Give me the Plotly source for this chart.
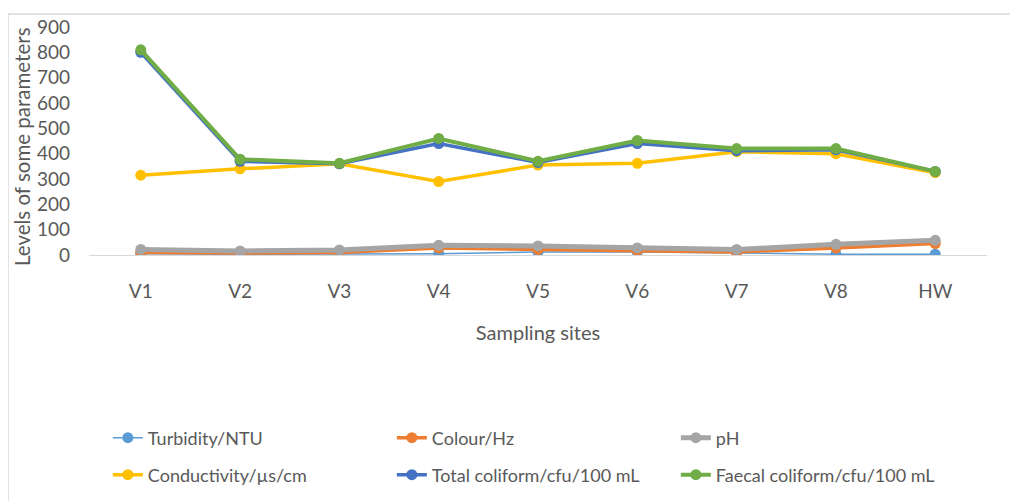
import plotly.graph_objects as go

SITES = ["V1", "V2", "V3", "V4", "V5", "V6", "V7", "V8", "HW"]

turbidity = [5, 3, 4, 5, 12, 12, 8, 3, 3]
colour = [10, 8, 10, 28, 22, 18, 12, 28, 45]
ph = [22, 16, 20, 38, 36, 28, 22, 42, 58]
conductivity = [315, 340, 360, 290, 355, 362, 408, 400, 325]
total_coliform = [800, 370, 360, 440, 365, 440, 412, 415, 330]
faecal_coliform = [810, 378, 362, 460, 370, 452, 420, 420, 330]

SERIES = [
    ("Turbidity/NTU", turbidity, "#5B9BD5", 1.5, "legend"),
    ("Colour/Hz", colour, "#ED7D31", 3.5, "legend"),
    ("pH", ph, "#A5A5A5", 5, "legend"),
    ("Conductivity/\u00b5s/cm", conductivity, "#FFC000", 3.5, "legend2"),
    ("Total coliform/cfu/100 mL", total_coliform, "#4472C4", 3.5, "legend2"),
    ("Faecal coliform/cfu/100 mL", faecal_coliform, "#70AD47", 4, "legend2"),
]

FONT = "Lato, Open Sans, sans-serif"
TXT = "#595959"

# page has an 8px body margin, so figure coords = page coords - 8
PLOT_H = 228
PLOT_W = 898

fig = go.Figure()
for name, vals, color, lw, leg in SERIES:
    fig.add_trace(go.Scatter(
        x=SITES, y=vals, name=name, mode="lines+markers",
        line=dict(color=color, width=lw),
        marker=dict(color=color, size=11),
        legend=leg,
    ))

leg_common = dict(
    orientation="h", xanchor="left", yanchor="middle",
    entrywidth=239, entrywidthmode="pixels",
    font=dict(family=FONT, size=18, color=TXT),
    bgcolor="rgba(0,0,0,0)",
)

fig.update_layout(
    width=1018, height=501,
    margin=dict(l=81, r=39, t=19, b=254),
    paper_bgcolor="white", plot_bgcolor="white",
    font=dict(family=FONT, size=19, color=TXT),
    showlegend=True,
    legend=dict(x=0.021, y=(255 - 438) / PLOT_H, **leg_common),
    legend2=dict(x=0.021, y=(255 - 475) / PLOT_H, **leg_common),
    xaxis=dict(
        showgrid=False, showline=True, linecolor="#d9d9d9", linewidth=1,
        ticks="outside", ticklen=0, ticklabelstandoff=19, automargin=False,
        tickfont=dict(family=FONT, size=19, color=TXT),
        title=dict(text="Sampling sites", standoff=25,
                   font=dict(family=FONT, size=20, color=TXT)),
        zeroline=False,
    ),
    yaxis=dict(
        range=[0, 900], dtick=100, showgrid=False, zeroline=False,
        showline=False, ticklabelstandoff=18, automargin=False,
        tickfont=dict(family=FONT, size=19, color=TXT),
    ),
    annotations=[dict(
        text="Levels of some parameters", textangle=-90, showarrow=False,
        xref="paper", yref="paper", xanchor="center", yanchor="middle",
        x=(22 - 89) / PLOT_W, y=(255 - 147) / PLOT_H,
        font=dict(family=FONT, size=20.5, color=TXT),
    )],
    shapes=[dict(
        type="rect", xref="paper", yref="paper",
        x0=(8 - 89) / PLOT_W, x1=(1030 - 89) / PLOT_W,
        y0=(255 - 520) / PLOT_H, y1=1 + (27 - 14) / PLOT_H,
        line=dict(color="#d9d9d9", width=1.5), layer="below",
    )],
)

fig.write_html("out.html")
